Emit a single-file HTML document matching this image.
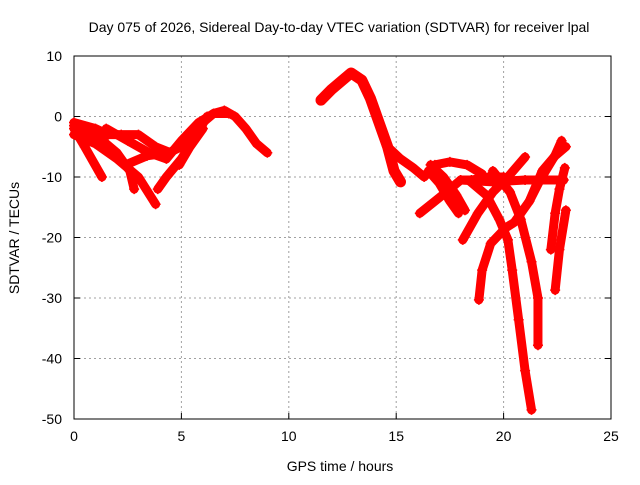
<!DOCTYPE html>
<html><head><meta charset="utf-8"><style>
body{margin:0;background:#fff}
svg text{font-family:"Liberation Sans",sans-serif;font-size:14px;fill:#000}
</style></head><body>
<svg id="chart" width="640" height="480" viewBox="0 0 640 480" xmlns="http://www.w3.org/2000/svg">
<rect width="640" height="480" fill="#fff"/>
<text x="339" y="32" text-anchor="middle">Day 075 of 2026, Sidereal Day-to-day VTEC variation (SDTVAR) for receiver lpal</text>
<g id="grid"></g><g id="axes"></g><g id="series"></g>
<text x="340" y="471" text-anchor="middle">GPS time / hours</text>
<text transform="translate(19,238) rotate(-90)" text-anchor="middle">SDTVAR / TECUs</text>
</svg>
<script>
const xTicks=[0,5,10,15,20,25];
const yTicks=[10,0,-10,-20,-30,-40,-50];
const s1=[[0,-2],[0.5,-5],[1.3,-10]];
const s2=[[0,-3],[1,-4.5],[2,-7],[3,-10],[3.8,-14.5]];
const s3=[[0,-1.5],[1,-3],[2,-6],[2.6,-9],[2.8,-12]];
const s4=[[0,-1],[1,-2],[1.6,-3],[2.2,-3],[3,-3],[3.8,-5],[4.5,-6],[5.2,-4],[6,-1],[6.5,0.5],[7,1],[7.5,0],[8,-2],[8.5,-4.5],[9,-6]];
const s5=[[1.5,-2],[2.5,-4],[3.5,-6],[4.3,-7],[5,-4],[5.8,-1],[6.5,0.5],[7.2,0.5]];
const s6=[[3.9,-12],[4.3,-10],[5,-7],[5.7,-3],[6.2,0]];
const s7=[[4.9,-8],[5.4,-5],[6,-2]];
const s8=[[2.4,-8],[3.4,-6.5],[4.4,-6],[5,-5]];
const s9=[[11.5,2.7],[12,4.5],[12.5,6],[12.9,7.2],[13.4,6],[13.8,3],[14.2,-1],[14.6,-5],[14.9,-9],[15.2,-10.8]];
const s10=[[14.6,-5],[15.2,-7],[15.8,-8.5],[16.3,-10],[16.8,-8],[17.5,-7.5],[18.3,-8],[19,-9.5]];
const s11=[[16.1,-16],[16.8,-14],[17.5,-12],[18,-10.5],[18.5,-10.5],[19.3,-10],[20,-10]];
const s12=[[16.6,-8],[17.2,-10],[17.8,-13],[18.2,-15.5]];
const s13=[[16.5,-9],[17,-11],[17.5,-14],[17.9,-16]];
const s14=[[18.1,-20.4],[18.8,-16],[19.5,-12.5],[20.2,-10],[21,-6.7]];
const s15=[[18.85,-30.3],[19,-25.4],[19.4,-21],[20.1,-18.4],[20.5,-17.5],[21.2,-14],[21.7,-10.5],[22.4,-6.4],[22.7,-4]];
const s16=[[18.4,-10.6],[19.2,-13],[19.8,-17],[20.2,-20.4],[20.4,-25.4],[20.7,-33.6],[21,-42],[21.3,-48.5]];
const s17=[[18,-10.5],[19.5,-10.8],[21,-10.5],[22.8,-10.5]];
const s18=[[19.5,-9],[20.3,-12.5],[20.8,-17],[21.3,-24],[21.6,-30],[21.6,-37.8]];
const s19=[[22.2,-22],[22.4,-16],[22.6,-12],[22.85,-8.5]];
const s20=[[22.4,-28.7],[22.6,-22],[22.9,-15.5]];
const s21=[[21.2,-14],[21.8,-9],[22.4,-6.5],[22.9,-5]];
const allSeries=[s1,s2,s3,s4,s5,s6,s7,s8,s9,s10,s11,s12,s13,s14,s15,s16,s17,s18,s19,s20,s21];
const X0=74,X1=611,Y0=56,Y1=419;
const sx=v=>X0+(v-0)/25*(X1-X0);
const sy=v=>Y0+(10-v)/60*(Y1-Y0);
const NS="http://www.w3.org/2000/svg";
function mk(t,a,p){const e=document.createElementNS(NS,t);for(const k in a)e.setAttribute(k,a[k]);p.appendChild(e);return e;}
const grid=document.getElementById('grid'),axes=document.getElementById('axes'),ser=document.getElementById('series');
xTicks.forEach(t=>{const x=sx(t);
 if(t>0&&t<25){const g=mk('line',{x1:x,y1:Y0,x2:x,y2:Y1,stroke:'#a0a0a0','stroke-dasharray':'2,3'},grid);
 
 }
 mk('line',{x1:x,y1:Y1,x2:x,y2:Y1-6,stroke:'#000'},axes);
 const tx=mk('text',{x:x,y:Y1+22,'text-anchor':'middle'},axes);tx.textContent=t;
 
 });
yTicks.forEach(t=>{const y=sy(t);
 if(t>-50&&t<10){const g=mk('line',{x1:X0,y1:y,x2:X1,y2:y,stroke:'#a0a0a0','stroke-dasharray':'2,3'},grid);
 
 }
 mk('line',{x1:X0,y1:y,x2:X0+6,y2:y,stroke:'#000'},axes);
 mk('line',{x1:X1,y1:y,x2:X1-6,y2:y,stroke:'#000'},axes);
 const tx=mk('text',{x:X0-12,y:y+5,'text-anchor':'end'},axes);tx.textContent=t;
 
 });
const fr=mk('rect',{x:X0,y:Y0,width:X1-X0,height:Y1-Y0,fill:'none',stroke:'#000'},axes);


allSeries.forEach((s,i)=>{
 const pl=mk('polyline',{points:s.map(p=>sx(p[0])+','+sy(p[1])).join(' '),fill:'none',stroke:'#f00','stroke-width':(i===8?11:9),'stroke-linejoin':'round','stroke-linecap':'round'},ser);
 
 
 s.forEach(p=>{const x=sx(p[0]),y=sy(p[1]);
  const m=mk('path',{d:`M${x-5},${y}H${x+5}M${x},${y-5}V${y+5}`,stroke:'#f00','stroke-width':1.5},ser);
  
  });
});
</script>
</body></html>
